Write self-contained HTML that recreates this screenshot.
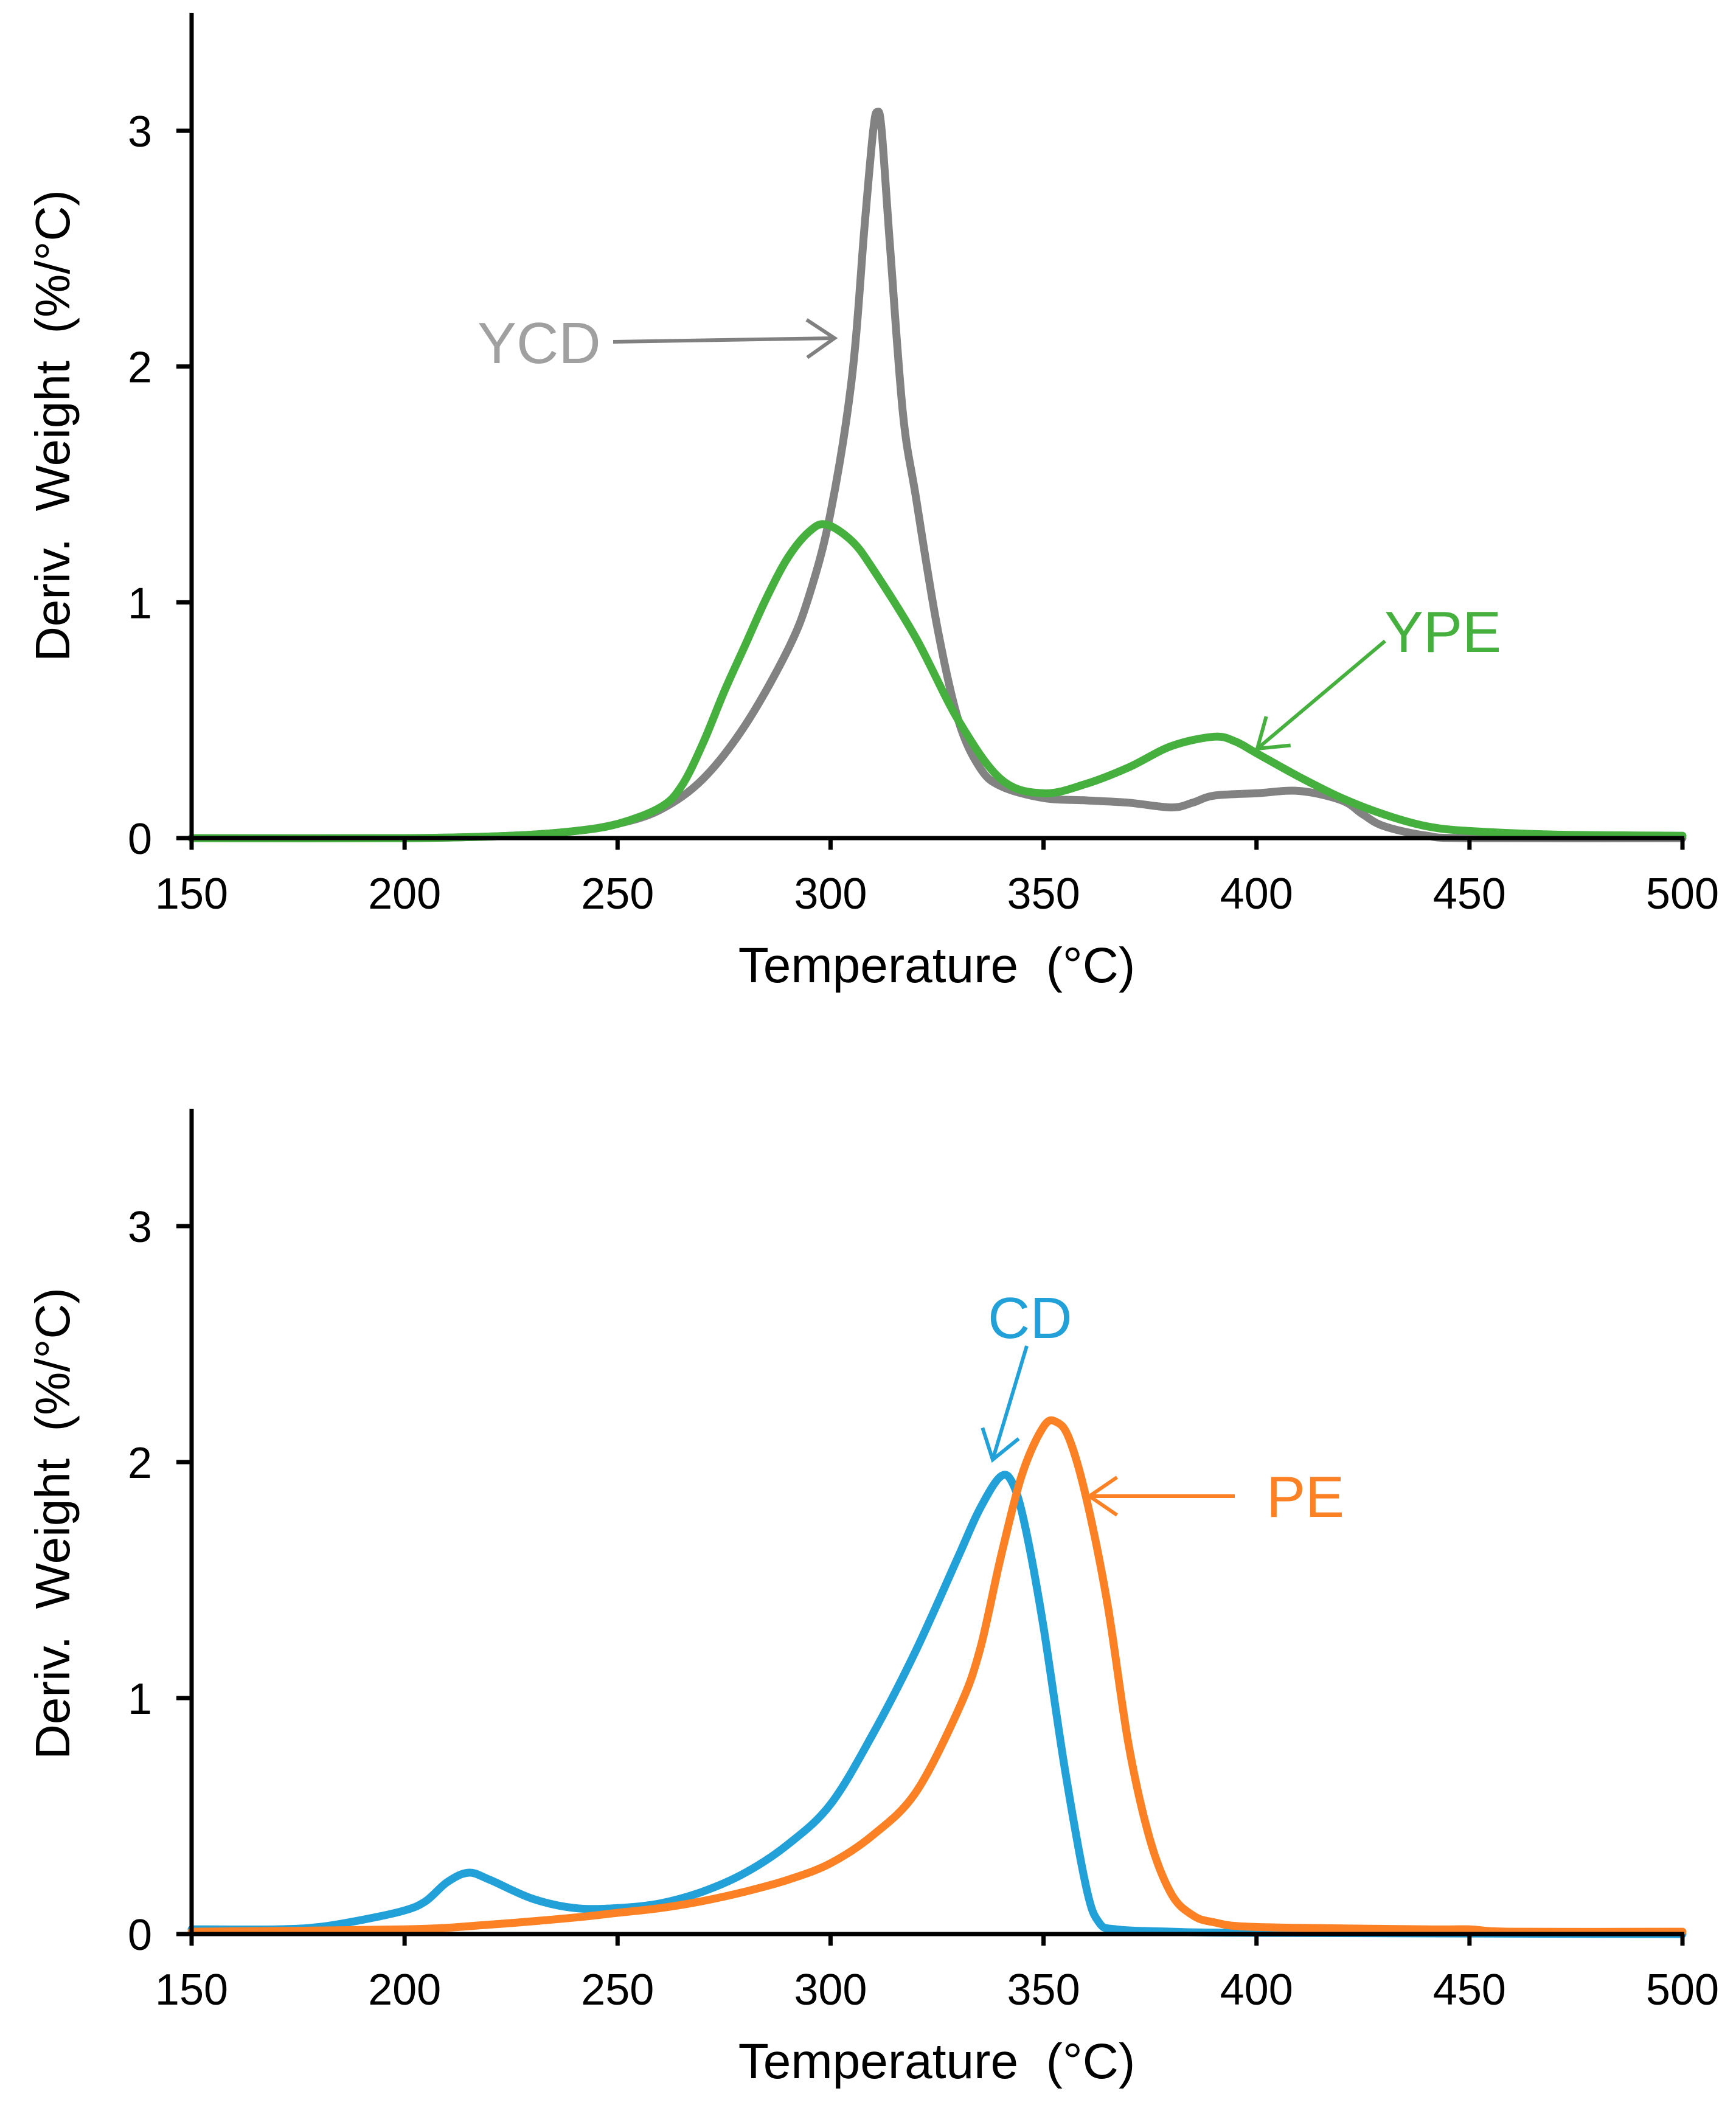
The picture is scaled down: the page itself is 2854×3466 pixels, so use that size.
<!DOCTYPE html>
<html><head><meta charset="utf-8"><style>
html,body{margin:0;padding:0;background:#fff}
svg text{font-family:"Liberation Sans",Arial,sans-serif}
</style></head><body>
<svg id="chart" width="2854" height="3461" viewBox="0 0 2854 3461" xmlns="http://www.w3.org/2000/svg">
</svg>
<script>
const xTicks=[150,200,250,300,350,400,450,500];
const yTicks=[0,1,2,3];
const ycdT=[150,200,225,240,250,260,270,280,290,295,300,305,308,310,311,312,314,317,320,325,330,335,340,350,360,370,380,385,390,400,410,420,425,430,440,450,500];
const ycdV=[0,0,0.01,0.03,0.06,0.12,0.25,0.48,0.8,1.03,1.38,1.95,2.6,3.0,3.08,3.0,2.5,1.8,1.45,0.9,0.5,0.3,0.22,0.17,0.16,0.15,0.13,0.15,0.18,0.19,0.2,0.16,0.1,0.05,0.01,0,0];
const ypeT=[150,200,225,240,250,260,265,270,275,280,285,290,295,299,305,310,320,330,340,350,360,370,380,390,395,400,410,420,430,440,450,470,500];
const ypeV=[0,0,0.01,0.03,0.06,0.13,0.22,0.4,0.62,0.82,1.02,1.19,1.3,1.33,1.26,1.14,0.85,0.5,0.25,0.19,0.23,0.3,0.39,0.43,0.41,0.36,0.26,0.17,0.1,0.05,0.03,0.015,0.01];
const cdT=[150,170,180,190,200,205,210,215,220,230,240,250,260,270,280,290,300,310,320,330,335,340,343,346,350,355,360,363,367,380,400,500];
const cdV=[0.02,0.02,0.03,0.06,0.1,0.14,0.22,0.26,0.23,0.15,0.11,0.11,0.13,0.18,0.26,0.38,0.55,0.85,1.2,1.6,1.8,1.94,1.9,1.7,1.3,0.7,0.2,0.05,0.02,0.01,0.005,0];
const peT=[150,200,220,240,250,260,270,280,290,300,310,320,330,335,340,345,350,353,356,360,365,370,375,380,385,390,400,440,450,460,500];
const peV=[0.01,0.02,0.04,0.07,0.09,0.11,0.14,0.18,0.23,0.3,0.42,0.6,0.95,1.2,1.6,1.95,2.15,2.17,2.1,1.85,1.4,0.8,0.4,0.17,0.08,0.05,0.03,0.02,0.02,0.01,0.01];

const NS="http://www.w3.org/2000/svg";
const svg=document.getElementById('chart');
function mk(tag,attrs,parent){const e=document.createElementNS(NS,tag);for(const k in attrs)e.setAttribute(k,attrs[k]);(parent||svg).appendChild(e);return e;}
const X0=315,X1=2766;
function xs(t){return X0+(t-150)/(500-150)*(X1-X0);}
function makeY(y0,y3){return v=>y0+(y3-y0)*v/3;}
function pathD(T,V,ys){
  const p=T.map((t,i)=>[xs(t),ys(V[i])]);
  let d='M'+p[0][0].toFixed(1)+','+p[0][1].toFixed(1);
  for(let i=0;i<p.length-1;i++){
    const a=p[Math.max(0,i-1)],b=p[i],c=p[i+1],e=p[Math.min(p.length-1,i+2)];
    const c1=[b[0]+(c[0]-a[0])/6,b[1]+(c[1]-a[1])/6],c2=[c[0]-(e[0]-b[0])/6,c[1]-(e[1]-b[1])/6];
    d+='C'+c1[0].toFixed(1)+','+c1[1].toFixed(1)+' '+c2[0].toFixed(1)+','+c2[1].toFixed(1)+' '+c[0].toFixed(1)+','+c[1].toFixed(1);
  }
  return d;
}
function axes(g,ys,top,prefix,titleY){
  const ya=mk('line',{x1:X0,y1:top,x2:X0,y2:ys(0)+19,stroke:'#000','stroke-width':7},g);
  
  
  const xa=mk('line',{x1:X0-3,y1:ys(0),x2:X1+3,y2:ys(0),stroke:'#000','stroke-width':7},g);
  
  
  yTicks.forEach(v=>{
    const tk=mk('line',{x1:290,y1:ys(v),x2:X0,y2:ys(v),stroke:'#000','stroke-width':7},g);
    
    
    const tl=mk('text',{x:230,y:ys(v)+26,'font-size':72,'text-anchor':'middle'},g);
    tl.textContent=v;
    
    
  });
  xTicks.forEach(t=>{
    const tk=mk('line',{x1:xs(t),y1:ys(0),x2:xs(t),y2:ys(0)+19,stroke:'#000','stroke-width':7},g);
    
    
    const tl=mk('text',{x:xs(t),y:ys(0)+116,'font-size':72,'text-anchor':'middle'},g);
    tl.textContent=t;
    
    
  });
  const xt=mk('text',{x:1540,y:ys(0)+237,'font-size':82,'text-anchor':'middle'},g);
  xt.textContent='Temperature\u00a0 (°C)';
  
  
  const yt=mk('text',{x:0,y:0,'font-size':80,'text-anchor':'middle',transform:'translate(114,'+titleY+') rotate(-90)'},g);
  yt.textContent='Deriv.\u00a0 Weight\u00a0 (%/°C)';
  
  
}
function series(g,T,V,ys,color,name){
  const p=mk('path',{d:pathD(T,V,ys),fill:'none',stroke:color,'stroke-width':13,'stroke-linejoin':'round','stroke-linecap':'round'},g);
  
  
}
function arrow(g,x1,y1,x2,y2,color,name){
  const grp=mk('g',{},g);
  
  
  mk('line',{x1,y1,x2,y2,stroke:color,'stroke-width':6},grp);
  const a=Math.atan2(y2-y1,x2-x1),L=55,s=0.6;
  const pts=[[x2-L*Math.cos(a-s),y2-L*Math.sin(a-s)],[x2,y2],[x2-L*Math.cos(a+s),y2-L*Math.sin(a+s)]];
  mk('polyline',{points:pts.map(p=>p.join(',')).join(' '),fill:'none',stroke:color,'stroke-width':6},grp);
}
function label(g,x,y,txt,color,name){
  const t=mk('text',{x,y,'font-size':96,fill:color},g);
  t.textContent=txt;
  
  
}
const g1=mk('g',{});


const ys1=makeY(1378,215);
series(g1,ycdT,ycdV,ys1,'#828282','ycd-line');
series(g1,ypeT,ypeV,ys1,'#46b03f','ype-line');
axes(g1,ys1,21,'top',700);
label(g1,785,597,'YCD','#a0a0a0','ycd-label');
arrow(g1,1008,562,1372,556,'#808080','ycd-arrow');
label(g1,2276,1072,'YPE','#46b03f','ype-label');
arrow(g1,2277,1054,2067,1231,'#46b03f','ype-arrow');
const g2=mk('g',{});


const ys2=makeY(3180,2016);
series(g2,cdT,cdV,ys2,'#22a0d8','cd-line');
series(g2,peT,peV,ys2,'#fb8124','pe-line');
axes(g2,ys2,1823,'bottom',2505);
label(g2,1624,2200,'CD','#22a0d8','cd-label');
arrow(g2,1688,2213,1632,2400,'#22a0d8','cd-arrow');
label(g2,2082,2494,'PE','#fb8124','pe-label');
arrow(g2,2030,2460,1791,2460,'#fb8124','pe-arrow');
</script>
</body></html>
